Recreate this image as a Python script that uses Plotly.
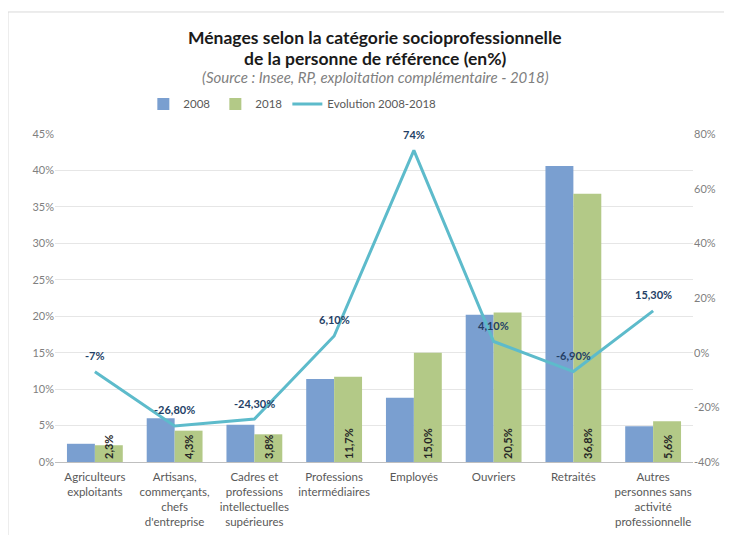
import plotly.graph_objects as go

categories = [
    "Agriculteurs<br>exploitants",
    "Artisans,<br>commerçants,<br>chefs<br>d'entreprise",
    "Cadres et<br>professions<br>intellectuelles<br>supérieures",
    "Professions<br>intermédiaires",
    "Employés",
    "Ouvriers",
    "Retraités",
    "Autres<br>personnes sans<br>activité<br>professionnelle",
]
values_2008 = [2.5, 6.0, 5.1, 11.4, 8.8, 20.2, 40.6, 4.9]
values_2018 = [2.3, 4.3, 3.8, 11.7, 15.0, 20.5, 36.8, 5.6]
evolution = [-7, -26.8, -24.3, 6.1, 74, 4.1, -6.9, 15.3]

left_ticks = list(range(0, 46, 5))
right_ticks = list(range(-40, 81, 20))


def fmt_bar(v):
    return f"{v:.1f}%".replace(".", ",")


def fmt_evo(v):
    if float(v).is_integer():
        return f"{int(v)}%"
    return f"{v:.2f}%".replace(".", ",")


FONT = "Lato"
BLUE = "#7A9FD0"
GREEN = "#B3C987"
LINE = "#5DBBCB"
NAVY = "#243F66"

fig = go.Figure()
fig.add_trace(go.Bar(
    x=categories, y=values_2008, name="2008",
    marker=dict(color=BLUE, line=dict(width=0)),
))
fig.add_trace(go.Bar(
    x=categories, y=values_2018, name="2018",
    marker=dict(color=GREEN, line=dict(width=0)),
    text=[fmt_bar(v) for v in values_2018],
    textposition="inside", insidetextanchor="start", textangle=-90,
    constraintext="none",
    textfont=dict(family=FONT, size=11, color="#262626", weight="bold"),
    cliponaxis=False,
))
fig.add_trace(go.Scatter(
    x=categories, y=evolution, name="Evolution 2008-2018",
    yaxis="y2", mode="lines",
    line=dict(color=LINE, width=3),
    cliponaxis=False,
))

# Data labels of the evolution line
for cat, v in zip(categories, evolution):
    fig.add_annotation(x=cat, y=v, xref="x", yref="y2", text=f"<b>{fmt_evo(v)}</b>",
                       showarrow=False, yshift=16,
                       font=dict(family=FONT, size=11, color=NAVY))

# Title block
fig.add_annotation(text="<b>Ménages selon la catégorie socioprofessionnelle</b>",
                   xref="paper", yref="paper", x=0.5016, y=1.2957,
                   showarrow=False, yanchor="middle",
                   font=dict(family=FONT, size=17.5, color="#1A1A1A"))
fig.add_annotation(text="<b>de la personne de référence (en%)</b>",
                   xref="paper", yref="paper", x=0.5016, y=1.2317,
                   showarrow=False, yanchor="middle",
                   font=dict(family=FONT, size=17.5, color="#1A1A1A"))
fig.add_annotation(text="<i>(Source : Insee, RP, exploitation complémentaire - 2018)</i>",
                   xref="paper", yref="paper", x=0.5016, y=1.1738,
                   showarrow=False, yanchor="middle",
                   font=dict(family=FONT, size=15, color="#7F7F7F"))

# Chart border
fig.add_shape(type="rect", xref="paper", yref="paper",
              x0=-0.0737, x1=1.0533, y0=-0.25, y1=1.372,
              line=dict(color="#D9D9D9", width=1), layer="below")

fig.update_layout(
    width=724, height=527,
    margin=dict(l=47, r=39, t=126, b=73, autoexpand=False),
    paper_bgcolor="white", plot_bgcolor="white",
    font=dict(family=FONT, size=11, color="#595959"),
    barmode="group", bargap=0.3, bargroupgap=0,
    showlegend=True,
    legend=dict(orientation="h", x=0.372, xanchor="center", y=1.0915, yanchor="middle",
                font=dict(family=FONT, size=11.5, color="#595959"),
                itemwidth=30, traceorder="normal", tracegroupgap=0),
    xaxis=dict(showgrid=False, showline=True, linecolor="#BFBFBF", linewidth=1,
               ticks="", automargin=False, ticklabelstandoff=4,
               tickfont=dict(family=FONT, size=11.5, color="#595959")),
    yaxis=dict(range=[0, 45], tickvals=left_ticks,
               ticktext=[f"{t}%" for t in left_ticks],
               showgrid=True, gridcolor="#E6E6E6", gridwidth=1,
               zeroline=False, showline=False, ticks="", automargin=False,
               tickfont=dict(family=FONT, size=11, color="#7F7F7F")),
    yaxis2=dict(range=[-40, 80], tickvals=right_ticks,
                ticktext=[f"{t}%" for t in right_ticks],
                overlaying="y", side="right", showgrid=False, automargin=False,
                zeroline=False, showline=False, ticks="",
                tickfont=dict(family=FONT, size=11, color="#7F7F7F")),
)

fig.write_html("out.html")
